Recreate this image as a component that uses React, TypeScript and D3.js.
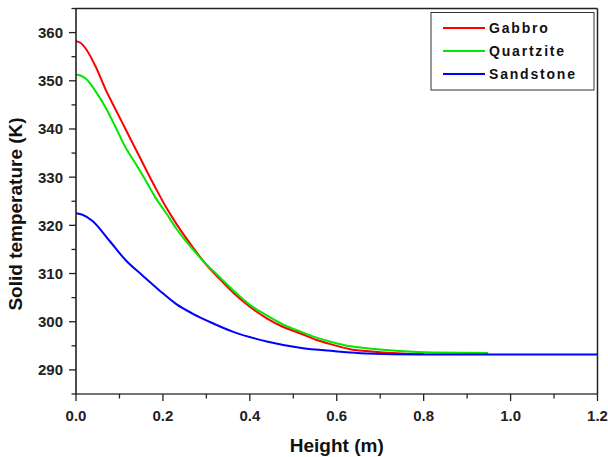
import React from "react";
import * as d3 from "d3";

const gabbroH = [0, 0.01, 0.023, 0.046, 0.069, 0.092, 0.115, 0.138, 0.161, 0.184, 0.207, 0.231, 0.27, 0.3, 0.324, 0.362, 0.4, 0.439, 0.477, 0.515, 0.554, 0.592, 0.631, 0.668, 0.707, 0.75, 0.8];
const gabbroT = [358.2, 357.9, 356.6, 352.8, 348.0, 343.9, 339.8, 335.7, 331.6, 327.6, 323.8, 320.3, 315.3, 311.8, 309.5, 306.0, 303.1, 300.7, 298.9, 297.6, 296.2, 295.2, 294.3, 293.9, 293.6, 293.4, 293.3];

const quartziteH = [0, 0.01, 0.023, 0.046, 0.069, 0.092, 0.115, 0.138, 0.161, 0.184, 0.207, 0.231, 0.27, 0.3, 0.323, 0.362, 0.4, 0.439, 0.477, 0.515, 0.554, 0.592, 0.631, 0.668, 0.745, 0.822, 0.948];
const quartziteT = [351.3, 351.1, 350.4, 347.7, 344.3, 340.2, 336.0, 332.7, 329.2, 325.6, 322.6, 319.3, 314.9, 311.9, 309.9, 306.5, 303.5, 301.3, 299.4, 298.0, 296.7, 295.7, 294.9, 294.5, 293.9, 293.6, 293.5];

const sandstoneH = [0, 0.015, 0.038, 0.077, 0.115, 0.153, 0.192, 0.23, 0.268, 0.307, 0.362, 0.439, 0.515, 0.592, 0.668, 0.79, 0.9, 1.0, 1.1, 1.2];
const sandstoneT = [322.5, 322.2, 320.9, 316.8, 312.7, 309.6, 306.5, 303.7, 301.7, 300.0, 297.9, 295.9, 294.6, 293.9, 293.4, 293.2, 293.2, 293.2, 293.2, 293.2];

const seriesNames = ["Gabbro", "Quartzite", "Sandstone"];
const seriesColors = ["#ff0000", "#00e800", "#0000ff"];

const xTicks = [0, 0.2, 0.4, 0.6, 0.8, 1.0, 1.2];
const xMinorTicks = [0.1, 0.3, 0.5, 0.7, 0.9, 1.1];
const yTicks = [290, 300, 310, 320, 330, 340, 350, 360];
const yMinorTicks = [285, 295, 305, 315, 325, 335, 345, 355, 365];

const W = 608;
const H = 457;
const left = 76;
const right = 597.5;
const top = 8.5;
const bottom = 394;

export default function App() {
  const x = d3.scaleLinear().domain([0, 1.2]).range([left, right]);
  const y = d3.scaleLinear().domain([285, 365]).range([bottom, top]);
  const line = d3
    .line<[number, number]>()
    .x((d) => x(d[0]))
    .y((d) => y(d[1]))
    .curve(d3.curveMonotoneX);

  const series = [
    gabbroH.map((h, i) => [h, gabbroT[i]] as [number, number]),
    quartziteH.map((h, i) => [h, quartziteT[i]] as [number, number]),
    sandstoneH.map((h, i) => [h, sandstoneT[i]] as [number, number]),
  ];

  const font = "Arial, 'Liberation Sans', sans-serif";
  const axisColor = "#222";

  return (
    <svg
      width={W}
      height={H}
      style={{ position: "absolute", left: 0, top: 0, background: "#fff" }}
    >
      <defs>
        <clipPath id="plotclip">
          <rect x={left} y={top} width={right - left} height={bottom - top} />
        </clipPath>
      </defs>
      <rect x={0} y={0} width={W} height={H} fill="#fff" />

      <g clipPath="url(#plotclip)">
        {series.map((s, i) => (
          <path
            key={i}
            d={line(s) || ""}
            fill="none"
            stroke={seriesColors[i]}
            strokeWidth={2}
            strokeLinejoin="round"
          />
        ))}
      </g>

      {/* frame */}
      <line x1={left} x2={right} y1={top} y2={top} stroke={axisColor} strokeWidth={1.5} />
      <line x1={right} x2={right} y1={top} y2={bottom} stroke={axisColor} strokeWidth={1.5} />
      <line x1={left} x2={right} y1={bottom} y2={bottom} stroke="#444" strokeWidth={1.6} />
      <line x1={left} x2={left} y1={top} y2={bottom} stroke={axisColor} strokeWidth={1.6} />

      {/* x ticks */}
      {xTicks.map((t) => (
        <g key={"xt" + t}>
          <line x1={x(t)} x2={x(t)} y1={bottom} y2={bottom + 7} stroke={axisColor} strokeWidth={1.3} />
          <text
            x={x(t)}
            y={bottom + 26.5}
            textAnchor="middle"
            fontFamily={font}
            fontWeight="bold"
            fontSize={15}
            fill="#222"
          >
            {t.toFixed(1)}
          </text>
        </g>
      ))}
      {xMinorTicks.map((t) => (
        <line key={"xm" + t} x1={x(t)} x2={x(t)} y1={bottom} y2={bottom + 4.5} stroke={axisColor} strokeWidth={1.3} />
      ))}

      {/* y ticks */}
      {yTicks.map((t) => (
        <g key={"yt" + t}>
          <line x1={left - 7} x2={left} y1={y(t)} y2={y(t)} stroke={axisColor} strokeWidth={1.3} />
          <text
            x={63}
            y={y(t)}
            dy="0.36em"
            textAnchor="end"
            fontFamily={font}
            fontWeight="bold"
            fontSize={15}
            fill="#222"
          >
            {t}
          </text>
        </g>
      ))}
      {yMinorTicks.map((t) => (
        <line key={"ym" + t} x1={left - 4.5} x2={left} y1={y(t)} y2={y(t)} stroke={axisColor} strokeWidth={1.3} />
      ))}

      {/* axis titles */}
      <text
        x={(left + right) / 2}
        y={452}
        textAnchor="middle"
        fontFamily={font}
        fontWeight="bold"
        fontSize={19}
        fill="#111"
      >
        Height (m)
      </text>
      <text
        transform={`translate(22, 214) rotate(-90)`}
        textAnchor="middle"
        fontFamily={font}
        fontWeight="bold"
        fontSize={19}
        fill="#111"
      >
        Solid temperature (K)
      </text>

      {/* legend */}
      <rect x={431} y={12.5} width={163} height={77.5} fill="#fff" stroke="#333" strokeWidth={1} />
      {seriesNames.map((n, i) => {
        const ly = 28 + i * 23;
        return (
          <g key={n}>
            <line x1={443} x2={485} y1={ly} y2={ly} stroke={seriesColors[i]} strokeWidth={2} />
            <text
              x={489}
              y={ly}
              dy="0.36em"
              fontFamily={font}
              fontWeight="bold"
              fontSize={14}
              letterSpacing={1.8}
              fill="#111"
            >
              {n}
            </text>
          </g>
        );
      })}
    </svg>
  );
}
